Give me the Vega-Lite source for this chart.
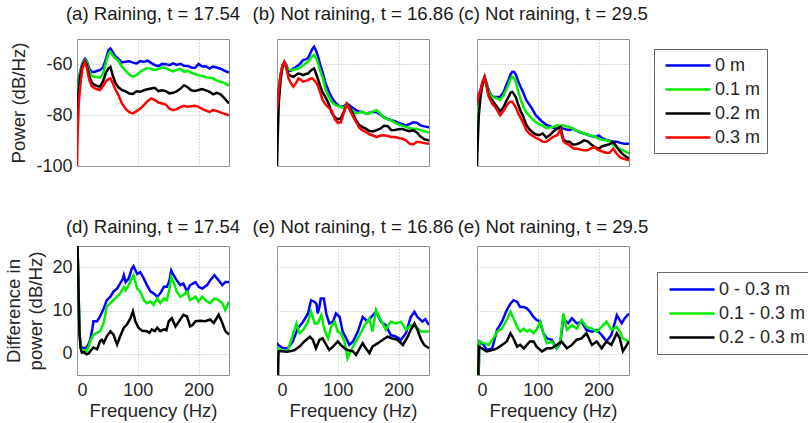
{
"$schema":"https://vega.github.io/schema/vega-lite/v6.json",
"background":"white",
"padding":{"left":4,"top":4,"right":0,"bottom":0},
"config":{
 "font":"Liberation Sans",
 "view":{"stroke":"#8c8c8c","strokeWidth":1},
 "axis":{"labelFontSize":18,"titleFontSize":18.6,"titleFontWeight":"normal","labelColor":"#262626","titleColor":"#262626","grid":true,"gridColor":"#b4b4b4","gridDash":[1,2],"gridOpacity":1,"domain":false,"ticks":false,"labelPadding":5},
 "axisY":{"titlePadding":7},
 "axisX":{"labelPadding":6,"titlePadding":2},
 "title":{"fontSize":18.6,"fontWeight":"normal","color":"#1a1a1a","font":"Liberation Sans","frame":"group","baseline":"alphabetic"},
 "legend":{"labelFontSize":18,"labelColor":"#262626","labelFont":"Liberation Sans"},
 "line":{"strokeWidth":2.5}
},
"data":{"values":[
{"p":"a","s":0,"f":0,"v":-72},{"p":"a","s":0,"f":2,"v":-67},{"p":"a","s":0,"f":5,"v":-63},{"p":"a","s":0,"f":9,"v":-59.5},{"p":"a","s":0,"f":13,"v":-57.8},{"p":"a","s":0,"f":16,"v":-58.6},{"p":"a","s":0,"f":20,"v":-61.5},{"p":"a","s":0,"f":24,"v":-63},{"p":"a","s":0,"f":28,"v":-63},{"p":"a","s":0,"f":33,"v":-62.6},{"p":"a","s":0,"f":38,"v":-62.2},{"p":"a","s":0,"f":43,"v":-61.2},{"p":"a","s":0,"f":48,"v":-57.5},{"p":"a","s":0,"f":52,"v":-54.2},{"p":"a","s":0,"f":55,"v":-53.7},{"p":"a","s":0,"f":59,"v":-55.2},{"p":"a","s":0,"f":63,"v":-56.8},{"p":"a","s":0,"f":68,"v":-57.8},{"p":"a","s":0,"f":74,"v":-59.2},{"p":"a","s":0,"f":80,"v":-59},{"p":"a","s":0,"f":86,"v":-58.8},{"p":"a","s":0,"f":92,"v":-59.3},{"p":"a","s":0,"f":98,"v":-59.6},{"p":"a","s":0,"f":104,"v":-58.7},{"p":"a","s":0,"f":110,"v":-59},{"p":"a","s":0,"f":116,"v":-58.5},{"p":"a","s":0,"f":122,"v":-59.4},{"p":"a","s":0,"f":128,"v":-60.3},{"p":"a","s":0,"f":134,"v":-60.7},{"p":"a","s":0,"f":140,"v":-59.8},{"p":"a","s":0,"f":146,"v":-59.9},{"p":"a","s":0,"f":152,"v":-60.3},{"p":"a","s":0,"f":158,"v":-59.6},{"p":"a","s":0,"f":164,"v":-60.2},{"p":"a","s":0,"f":170,"v":-59.8},{"p":"a","s":0,"f":176,"v":-60.5},{"p":"a","s":0,"f":182,"v":-60.6},{"p":"a","s":0,"f":188,"v":-61.2},{"p":"a","s":0,"f":194,"v":-61.4},{"p":"a","s":0,"f":200,"v":-59.8},{"p":"a","s":0,"f":206,"v":-60.8},{"p":"a","s":0,"f":212,"v":-60.7},{"p":"a","s":0,"f":218,"v":-61.6},{"p":"a","s":0,"f":224,"v":-60.9},{"p":"a","s":0,"f":230,"v":-61.2},{"p":"a","s":0,"f":236,"v":-61.7},{"p":"a","s":0,"f":242,"v":-62.4},{"p":"a","s":0,"f":250,"v":-63.2},
{"p":"a","s":1,"f":0,"v":-74},{"p":"a","s":1,"f":2,"v":-68},{"p":"a","s":1,"f":5,"v":-63.5},{"p":"a","s":1,"f":9,"v":-60},{"p":"a","s":1,"f":13,"v":-58.3},{"p":"a","s":1,"f":16,"v":-59},{"p":"a","s":1,"f":20,"v":-62.5},{"p":"a","s":1,"f":24,"v":-64.5},{"p":"a","s":1,"f":28,"v":-64.8},{"p":"a","s":1,"f":33,"v":-65},{"p":"a","s":1,"f":38,"v":-65.3},{"p":"a","s":1,"f":43,"v":-63.5},{"p":"a","s":1,"f":48,"v":-59},{"p":"a","s":1,"f":52,"v":-55.8},{"p":"a","s":1,"f":55,"v":-55},{"p":"a","s":1,"f":59,"v":-56.5},{"p":"a","s":1,"f":63,"v":-57.6},{"p":"a","s":1,"f":68,"v":-58.6},{"p":"a","s":1,"f":74,"v":-61},{"p":"a","s":1,"f":80,"v":-62.5},{"p":"a","s":1,"f":86,"v":-64},{"p":"a","s":1,"f":92,"v":-64.9},{"p":"a","s":1,"f":98,"v":-64.2},{"p":"a","s":1,"f":104,"v":-63},{"p":"a","s":1,"f":110,"v":-62},{"p":"a","s":1,"f":116,"v":-61.4},{"p":"a","s":1,"f":122,"v":-61.8},{"p":"a","s":1,"f":128,"v":-62.2},{"p":"a","s":1,"f":134,"v":-61.8},{"p":"a","s":1,"f":140,"v":-61.2},{"p":"a","s":1,"f":146,"v":-61.4},{"p":"a","s":1,"f":152,"v":-62.2},{"p":"a","s":1,"f":158,"v":-62.8},{"p":"a","s":1,"f":164,"v":-62.2},{"p":"a","s":1,"f":170,"v":-61.8},{"p":"a","s":1,"f":176,"v":-62.9},{"p":"a","s":1,"f":182,"v":-62.5},{"p":"a","s":1,"f":188,"v":-63.2},{"p":"a","s":1,"f":194,"v":-63.8},{"p":"a","s":1,"f":200,"v":-64.3},{"p":"a","s":1,"f":206,"v":-64.6},{"p":"a","s":1,"f":212,"v":-65},{"p":"a","s":1,"f":218,"v":-65.3},{"p":"a","s":1,"f":224,"v":-65.5},{"p":"a","s":1,"f":230,"v":-66.4},{"p":"a","s":1,"f":236,"v":-66.8},{"p":"a","s":1,"f":242,"v":-67.3},{"p":"a","s":1,"f":250,"v":-68.4},
{"p":"a","s":2,"f":0,"v":-82},{"p":"a","s":2,"f":2,"v":-72},{"p":"a","s":2,"f":5,"v":-65},{"p":"a","s":2,"f":9,"v":-60.5},{"p":"a","s":2,"f":13,"v":-58.8},{"p":"a","s":2,"f":16,"v":-60},{"p":"a","s":2,"f":20,"v":-64.5},{"p":"a","s":2,"f":24,"v":-67},{"p":"a","s":2,"f":28,"v":-68},{"p":"a","s":2,"f":33,"v":-68.5},{"p":"a","s":2,"f":38,"v":-68.8},{"p":"a","s":2,"f":43,"v":-66.5},{"p":"a","s":2,"f":48,"v":-63},{"p":"a","s":2,"f":52,"v":-61.5},{"p":"a","s":2,"f":55,"v":-61},{"p":"a","s":2,"f":59,"v":-64.5},{"p":"a","s":2,"f":63,"v":-67.2},{"p":"a","s":2,"f":68,"v":-69},{"p":"a","s":2,"f":74,"v":-70.1},{"p":"a","s":2,"f":80,"v":-70.6},{"p":"a","s":2,"f":86,"v":-71.5},{"p":"a","s":2,"f":92,"v":-71.6},{"p":"a","s":2,"f":98,"v":-70.6},{"p":"a","s":2,"f":104,"v":-70.8},{"p":"a","s":2,"f":110,"v":-70.2},{"p":"a","s":2,"f":116,"v":-69.8},{"p":"a","s":2,"f":122,"v":-69.5},{"p":"a","s":2,"f":128,"v":-69.2},{"p":"a","s":2,"f":134,"v":-70.5},{"p":"a","s":2,"f":140,"v":-70.2},{"p":"a","s":2,"f":146,"v":-70.5},{"p":"a","s":2,"f":152,"v":-71.4},{"p":"a","s":2,"f":158,"v":-71.2},{"p":"a","s":2,"f":164,"v":-70.6},{"p":"a","s":2,"f":170,"v":-69.6},{"p":"a","s":2,"f":176,"v":-68.2},{"p":"a","s":2,"f":182,"v":-69},{"p":"a","s":2,"f":188,"v":-70.2},{"p":"a","s":2,"f":194,"v":-70.5},{"p":"a","s":2,"f":200,"v":-70.1},{"p":"a","s":2,"f":206,"v":-69.7},{"p":"a","s":2,"f":212,"v":-70.2},{"p":"a","s":2,"f":218,"v":-70.8},{"p":"a","s":2,"f":224,"v":-71.8},{"p":"a","s":2,"f":230,"v":-71.2},{"p":"a","s":2,"f":236,"v":-71.8},{"p":"a","s":2,"f":242,"v":-73.2},{"p":"a","s":2,"f":250,"v":-75.4},
{"p":"a","s":3,"f":0,"v":-100},{"p":"a","s":3,"f":1,"v":-88},{"p":"a","s":3,"f":3,"v":-75},{"p":"a","s":3,"f":6,"v":-67},{"p":"a","s":3,"f":9,"v":-61.5},{"p":"a","s":3,"f":13,"v":-59.2},{"p":"a","s":3,"f":16,"v":-61},{"p":"a","s":3,"f":20,"v":-66},{"p":"a","s":3,"f":24,"v":-68.5},{"p":"a","s":3,"f":28,"v":-69.3},{"p":"a","s":3,"f":33,"v":-69.8},{"p":"a","s":3,"f":38,"v":-70.1},{"p":"a","s":3,"f":43,"v":-68.5},{"p":"a","s":3,"f":48,"v":-66.5},{"p":"a","s":3,"f":52,"v":-65.8},{"p":"a","s":3,"f":55,"v":-65.5},{"p":"a","s":3,"f":59,"v":-67.5},{"p":"a","s":3,"f":63,"v":-69.8},{"p":"a","s":3,"f":68,"v":-72},{"p":"a","s":3,"f":74,"v":-75.4},{"p":"a","s":3,"f":80,"v":-77.5},{"p":"a","s":3,"f":86,"v":-78.8},{"p":"a","s":3,"f":92,"v":-79.3},{"p":"a","s":3,"f":98,"v":-78.4},{"p":"a","s":3,"f":104,"v":-77.4},{"p":"a","s":3,"f":110,"v":-76},{"p":"a","s":3,"f":116,"v":-74.5},{"p":"a","s":3,"f":122,"v":-73.4},{"p":"a","s":3,"f":128,"v":-74.1},{"p":"a","s":3,"f":134,"v":-75},{"p":"a","s":3,"f":140,"v":-75.4},{"p":"a","s":3,"f":146,"v":-75.8},{"p":"a","s":3,"f":152,"v":-77.4},{"p":"a","s":3,"f":158,"v":-78},{"p":"a","s":3,"f":164,"v":-77.6},{"p":"a","s":3,"f":170,"v":-76.8},{"p":"a","s":3,"f":176,"v":-76.3},{"p":"a","s":3,"f":182,"v":-76.7},{"p":"a","s":3,"f":188,"v":-76.5},{"p":"a","s":3,"f":194,"v":-76.3},{"p":"a","s":3,"f":200,"v":-76.7},{"p":"a","s":3,"f":206,"v":-77.5},{"p":"a","s":3,"f":212,"v":-78.2},{"p":"a","s":3,"f":218,"v":-78.7},{"p":"a","s":3,"f":224,"v":-78},{"p":"a","s":3,"f":230,"v":-78.3},{"p":"a","s":3,"f":236,"v":-78.9},{"p":"a","s":3,"f":242,"v":-79.4},{"p":"a","s":3,"f":250,"v":-80},
{"p":"b","s":0,"f":0,"v":-76},{"p":"b","s":0,"f":3,"v":-70},{"p":"b","s":0,"f":6,"v":-64},{"p":"b","s":0,"f":9,"v":-60.5},{"p":"b","s":0,"f":12,"v":-59},{"p":"b","s":0,"f":15,"v":-60},{"p":"b","s":0,"f":19,"v":-62.5},{"p":"b","s":0,"f":23,"v":-62.5},{"p":"b","s":0,"f":27,"v":-61.6},{"p":"b","s":0,"f":31,"v":-61},{"p":"b","s":0,"f":35,"v":-60.3},{"p":"b","s":0,"f":39,"v":-59.5},{"p":"b","s":0,"f":43,"v":-58.3},{"p":"b","s":0,"f":47,"v":-58},{"p":"b","s":0,"f":51,"v":-57.6},{"p":"b","s":0,"f":55,"v":-55.5},{"p":"b","s":0,"f":58,"v":-54},{"p":"b","s":0,"f":61,"v":-53},{"p":"b","s":0,"f":64,"v":-54.5},{"p":"b","s":0,"f":67,"v":-56.5},{"p":"b","s":0,"f":71,"v":-60},{"p":"b","s":0,"f":75,"v":-63},{"p":"b","s":0,"f":80,"v":-67.5},{"p":"b","s":0,"f":85,"v":-70.5},{"p":"b","s":0,"f":90,"v":-73},{"p":"b","s":0,"f":95,"v":-74.8},{"p":"b","s":0,"f":100,"v":-76},{"p":"b","s":0,"f":105,"v":-76.7},{"p":"b","s":0,"f":110,"v":-76.5},{"p":"b","s":0,"f":115,"v":-75.4},{"p":"b","s":0,"f":120,"v":-76.2},{"p":"b","s":0,"f":125,"v":-77.2},{"p":"b","s":0,"f":130,"v":-78},{"p":"b","s":0,"f":135,"v":-78.5},{"p":"b","s":0,"f":140,"v":-78.7},{"p":"b","s":0,"f":146,"v":-79.3},{"p":"b","s":0,"f":152,"v":-79},{"p":"b","s":0,"f":158,"v":-78.7},{"p":"b","s":0,"f":164,"v":-78.8},{"p":"b","s":0,"f":170,"v":-79.8},{"p":"b","s":0,"f":176,"v":-80.8},{"p":"b","s":0,"f":182,"v":-81.5},{"p":"b","s":0,"f":188,"v":-82},{"p":"b","s":0,"f":194,"v":-82.4},{"p":"b","s":0,"f":200,"v":-83},{"p":"b","s":0,"f":206,"v":-83.5},{"p":"b","s":0,"f":212,"v":-84},{"p":"b","s":0,"f":218,"v":-83.5},{"p":"b","s":0,"f":224,"v":-82.8},{"p":"b","s":0,"f":230,"v":-83},{"p":"b","s":0,"f":236,"v":-84},{"p":"b","s":0,"f":242,"v":-84.4},{"p":"b","s":0,"f":250,"v":-84.8},
{"p":"b","s":1,"f":0,"v":-80},{"p":"b","s":1,"f":3,"v":-72},{"p":"b","s":1,"f":6,"v":-65},{"p":"b","s":1,"f":9,"v":-60.5},{"p":"b","s":1,"f":12,"v":-59},{"p":"b","s":1,"f":15,"v":-60.5},{"p":"b","s":1,"f":19,"v":-62.2},{"p":"b","s":1,"f":23,"v":-62.2},{"p":"b","s":1,"f":27,"v":-62.2},{"p":"b","s":1,"f":31,"v":-61.8},{"p":"b","s":1,"f":35,"v":-61.6},{"p":"b","s":1,"f":39,"v":-61},{"p":"b","s":1,"f":43,"v":-60.3},{"p":"b","s":1,"f":47,"v":-59.6},{"p":"b","s":1,"f":51,"v":-59},{"p":"b","s":1,"f":55,"v":-57.5},{"p":"b","s":1,"f":58,"v":-56.8},{"p":"b","s":1,"f":61,"v":-56.3},{"p":"b","s":1,"f":64,"v":-57.5},{"p":"b","s":1,"f":67,"v":-59},{"p":"b","s":1,"f":71,"v":-62.5},{"p":"b","s":1,"f":75,"v":-65},{"p":"b","s":1,"f":80,"v":-70},{"p":"b","s":1,"f":85,"v":-72.5},{"p":"b","s":1,"f":90,"v":-74.8},{"p":"b","s":1,"f":95,"v":-75.8},{"p":"b","s":1,"f":100,"v":-76.4},{"p":"b","s":1,"f":105,"v":-76.7},{"p":"b","s":1,"f":110,"v":-77.2},{"p":"b","s":1,"f":115,"v":-75.4},{"p":"b","s":1,"f":120,"v":-77},{"p":"b","s":1,"f":125,"v":-78.5},{"p":"b","s":1,"f":130,"v":-79.3},{"p":"b","s":1,"f":135,"v":-79},{"p":"b","s":1,"f":140,"v":-78.7},{"p":"b","s":1,"f":146,"v":-79.3},{"p":"b","s":1,"f":152,"v":-79.3},{"p":"b","s":1,"f":158,"v":-78.5},{"p":"b","s":1,"f":164,"v":-78},{"p":"b","s":1,"f":170,"v":-79.5},{"p":"b","s":1,"f":176,"v":-81},{"p":"b","s":1,"f":182,"v":-81.6},{"p":"b","s":1,"f":188,"v":-82},{"p":"b","s":1,"f":194,"v":-83},{"p":"b","s":1,"f":200,"v":-83.6},{"p":"b","s":1,"f":206,"v":-84.2},{"p":"b","s":1,"f":212,"v":-84.6},{"p":"b","s":1,"f":218,"v":-85.1},{"p":"b","s":1,"f":224,"v":-85.3},{"p":"b","s":1,"f":230,"v":-85.3},{"p":"b","s":1,"f":236,"v":-85.9},{"p":"b","s":1,"f":242,"v":-86.3},{"p":"b","s":1,"f":250,"v":-86.8},
{"p":"b","s":2,"f":0,"v":-100},{"p":"b","s":2,"f":1,"v":-90},{"p":"b","s":2,"f":3,"v":-75},{"p":"b","s":2,"f":6,"v":-66},{"p":"b","s":2,"f":9,"v":-61},{"p":"b","s":2,"f":12,"v":-59.5},{"p":"b","s":2,"f":15,"v":-61},{"p":"b","s":2,"f":19,"v":-64},{"p":"b","s":2,"f":23,"v":-64.5},{"p":"b","s":2,"f":27,"v":-64.9},{"p":"b","s":2,"f":31,"v":-64.2},{"p":"b","s":2,"f":35,"v":-63.6},{"p":"b","s":2,"f":39,"v":-63.8},{"p":"b","s":2,"f":43,"v":-64.2},{"p":"b","s":2,"f":47,"v":-63.8},{"p":"b","s":2,"f":51,"v":-63.6},{"p":"b","s":2,"f":55,"v":-62.6},{"p":"b","s":2,"f":58,"v":-62},{"p":"b","s":2,"f":61,"v":-61.6},{"p":"b","s":2,"f":64,"v":-63.5},{"p":"b","s":2,"f":67,"v":-65.5},{"p":"b","s":2,"f":71,"v":-68.5},{"p":"b","s":2,"f":75,"v":-71},{"p":"b","s":2,"f":80,"v":-73},{"p":"b","s":2,"f":85,"v":-75.5},{"p":"b","s":2,"f":90,"v":-79},{"p":"b","s":2,"f":95,"v":-80.8},{"p":"b","s":2,"f":100,"v":-81.6},{"p":"b","s":2,"f":105,"v":-81.3},{"p":"b","s":2,"f":110,"v":-78.5},{"p":"b","s":2,"f":115,"v":-75.6},{"p":"b","s":2,"f":120,"v":-77.2},{"p":"b","s":2,"f":125,"v":-79.5},{"p":"b","s":2,"f":130,"v":-82},{"p":"b","s":2,"f":135,"v":-83.8},{"p":"b","s":2,"f":140,"v":-84.6},{"p":"b","s":2,"f":146,"v":-85.3},{"p":"b","s":2,"f":152,"v":-86.2},{"p":"b","s":2,"f":158,"v":-86.4},{"p":"b","s":2,"f":164,"v":-85.9},{"p":"b","s":2,"f":170,"v":-85.3},{"p":"b","s":2,"f":176,"v":-84.2},{"p":"b","s":2,"f":182,"v":-84.3},{"p":"b","s":2,"f":188,"v":-85.9},{"p":"b","s":2,"f":194,"v":-85.8},{"p":"b","s":2,"f":200,"v":-85.5},{"p":"b","s":2,"f":206,"v":-85.4},{"p":"b","s":2,"f":212,"v":-85.9},{"p":"b","s":2,"f":218,"v":-86.3},{"p":"b","s":2,"f":224,"v":-85.9},{"p":"b","s":2,"f":230,"v":-86.8},{"p":"b","s":2,"f":236,"v":-88.4},{"p":"b","s":2,"f":242,"v":-89.4},{"p":"b","s":2,"f":250,"v":-90},
{"p":"b","s":3,"f":0,"v":-78},{"p":"b","s":3,"f":3,"v":-70},{"p":"b","s":3,"f":6,"v":-64},{"p":"b","s":3,"f":9,"v":-60.3},{"p":"b","s":3,"f":12,"v":-59},{"p":"b","s":3,"f":15,"v":-61},{"p":"b","s":3,"f":19,"v":-65.5},{"p":"b","s":3,"f":23,"v":-67.5},{"p":"b","s":3,"f":27,"v":-68.8},{"p":"b","s":3,"f":31,"v":-67.5},{"p":"b","s":3,"f":35,"v":-65.5},{"p":"b","s":3,"f":39,"v":-66},{"p":"b","s":3,"f":43,"v":-66.8},{"p":"b","s":3,"f":47,"v":-66.5},{"p":"b","s":3,"f":51,"v":-66.2},{"p":"b","s":3,"f":55,"v":-65.6},{"p":"b","s":3,"f":58,"v":-65.5},{"p":"b","s":3,"f":61,"v":-66.2},{"p":"b","s":3,"f":64,"v":-67},{"p":"b","s":3,"f":67,"v":-68.2},{"p":"b","s":3,"f":71,"v":-71},{"p":"b","s":3,"f":75,"v":-74},{"p":"b","s":3,"f":80,"v":-75.8},{"p":"b","s":3,"f":85,"v":-77},{"p":"b","s":3,"f":90,"v":-78.2},{"p":"b","s":3,"f":95,"v":-81.5},{"p":"b","s":3,"f":100,"v":-83},{"p":"b","s":3,"f":105,"v":-82.8},{"p":"b","s":3,"f":110,"v":-79},{"p":"b","s":3,"f":115,"v":-75.6},{"p":"b","s":3,"f":120,"v":-78},{"p":"b","s":3,"f":125,"v":-80.5},{"p":"b","s":3,"f":130,"v":-82.6},{"p":"b","s":3,"f":135,"v":-84.8},{"p":"b","s":3,"f":140,"v":-85.9},{"p":"b","s":3,"f":146,"v":-86.6},{"p":"b","s":3,"f":152,"v":-87.5},{"p":"b","s":3,"f":158,"v":-88},{"p":"b","s":3,"f":164,"v":-88.6},{"p":"b","s":3,"f":170,"v":-88},{"p":"b","s":3,"f":176,"v":-87.9},{"p":"b","s":3,"f":182,"v":-88.2},{"p":"b","s":3,"f":188,"v":-88.6},{"p":"b","s":3,"f":194,"v":-88.6},{"p":"b","s":3,"f":200,"v":-89},{"p":"b","s":3,"f":206,"v":-89.3},{"p":"b","s":3,"f":212,"v":-89.9},{"p":"b","s":3,"f":218,"v":-91.2},{"p":"b","s":3,"f":224,"v":-91.5},{"p":"b","s":3,"f":230,"v":-90.5},{"p":"b","s":3,"f":236,"v":-90.6},{"p":"b","s":3,"f":242,"v":-91},{"p":"b","s":3,"f":250,"v":-91.2},
{"p":"c","s":0,"f":0,"v":-76},{"p":"c","s":0,"f":3,"v":-72},{"p":"c","s":0,"f":6,"v":-70},{"p":"c","s":0,"f":9,"v":-67},{"p":"c","s":0,"f":12.5,"v":-64.9},{"p":"c","s":0,"f":16,"v":-67.5},{"p":"c","s":0,"f":19,"v":-70},{"p":"c","s":0,"f":22,"v":-71.5},{"p":"c","s":0,"f":25,"v":-72.6},{"p":"c","s":0,"f":29,"v":-72.8},{"p":"c","s":0,"f":33,"v":-72.8},{"p":"c","s":0,"f":38,"v":-72.8},{"p":"c","s":0,"f":44,"v":-70.8},{"p":"c","s":0,"f":48,"v":-68.2},{"p":"c","s":0,"f":52,"v":-66},{"p":"c","s":0,"f":55,"v":-64},{"p":"c","s":0,"f":58,"v":-62.9},{"p":"c","s":0,"f":61,"v":-63},{"p":"c","s":0,"f":64,"v":-64},{"p":"c","s":0,"f":68,"v":-66.8},{"p":"c","s":0,"f":72,"v":-69},{"p":"c","s":0,"f":76,"v":-71},{"p":"c","s":0,"f":81,"v":-74.1},{"p":"c","s":0,"f":86,"v":-75.8},{"p":"c","s":0,"f":91,"v":-77.6},{"p":"c","s":0,"f":96,"v":-79.8},{"p":"c","s":0,"f":102,"v":-81.3},{"p":"c","s":0,"f":108,"v":-82.7},{"p":"c","s":0,"f":114,"v":-83.8},{"p":"c","s":0,"f":120,"v":-84.3},{"p":"c","s":0,"f":126,"v":-85},{"p":"c","s":0,"f":132,"v":-85.3},{"p":"c","s":0,"f":137,"v":-85},{"p":"c","s":0,"f":142,"v":-85.3},{"p":"c","s":0,"f":147,"v":-85.6},{"p":"c","s":0,"f":152,"v":-85.8},{"p":"c","s":0,"f":158,"v":-85.3},{"p":"c","s":0,"f":164,"v":-86.2},{"p":"c","s":0,"f":170,"v":-86.8},{"p":"c","s":0,"f":176,"v":-87.2},{"p":"c","s":0,"f":182,"v":-87.7},{"p":"c","s":0,"f":188,"v":-88.2},{"p":"c","s":0,"f":194,"v":-88.6},{"p":"c","s":0,"f":200,"v":-88},{"p":"c","s":0,"f":206,"v":-89},{"p":"c","s":0,"f":212,"v":-89.6},{"p":"c","s":0,"f":218,"v":-90},{"p":"c","s":0,"f":224,"v":-90.5},{"p":"c","s":0,"f":230,"v":-90.5},{"p":"c","s":0,"f":236,"v":-90.9},{"p":"c","s":0,"f":242,"v":-91.2},{"p":"c","s":0,"f":250,"v":-91.2},
{"p":"c","s":1,"f":0,"v":-90},{"p":"c","s":1,"f":2,"v":-80},{"p":"c","s":1,"f":4,"v":-73},{"p":"c","s":1,"f":6,"v":-71},{"p":"c","s":1,"f":9,"v":-67.5},{"p":"c","s":1,"f":12.5,"v":-65},{"p":"c","s":1,"f":16,"v":-67.8},{"p":"c","s":1,"f":19,"v":-70.5},{"p":"c","s":1,"f":22,"v":-72},{"p":"c","s":1,"f":25,"v":-72.8},{"p":"c","s":1,"f":29,"v":-73.1},{"p":"c","s":1,"f":33,"v":-73.4},{"p":"c","s":1,"f":38,"v":-74},{"p":"c","s":1,"f":44,"v":-72.1},{"p":"c","s":1,"f":48,"v":-70},{"p":"c","s":1,"f":52,"v":-67.8},{"p":"c","s":1,"f":55,"v":-65.8},{"p":"c","s":1,"f":58,"v":-64.9},{"p":"c","s":1,"f":61,"v":-65.5},{"p":"c","s":1,"f":64,"v":-67},{"p":"c","s":1,"f":68,"v":-70.8},{"p":"c","s":1,"f":72,"v":-74},{"p":"c","s":1,"f":76,"v":-76.5},{"p":"c","s":1,"f":81,"v":-78.9},{"p":"c","s":1,"f":86,"v":-80.2},{"p":"c","s":1,"f":91,"v":-81.5},{"p":"c","s":1,"f":96,"v":-82.6},{"p":"c","s":1,"f":102,"v":-83.6},{"p":"c","s":1,"f":108,"v":-84.1},{"p":"c","s":1,"f":114,"v":-85.1},{"p":"c","s":1,"f":120,"v":-84.8},{"p":"c","s":1,"f":126,"v":-84.6},{"p":"c","s":1,"f":132,"v":-84},{"p":"c","s":1,"f":137,"v":-84.2},{"p":"c","s":1,"f":142,"v":-84},{"p":"c","s":1,"f":147,"v":-84.4},{"p":"c","s":1,"f":152,"v":-84.6},{"p":"c","s":1,"f":158,"v":-85.3},{"p":"c","s":1,"f":164,"v":-86.2},{"p":"c","s":1,"f":170,"v":-86.6},{"p":"c","s":1,"f":176,"v":-87.2},{"p":"c","s":1,"f":182,"v":-87.8},{"p":"c","s":1,"f":188,"v":-88},{"p":"c","s":1,"f":194,"v":-88.4},{"p":"c","s":1,"f":200,"v":-89.2},{"p":"c","s":1,"f":206,"v":-89.7},{"p":"c","s":1,"f":212,"v":-89.9},{"p":"c","s":1,"f":218,"v":-90.2},{"p":"c","s":1,"f":224,"v":-91.8},{"p":"c","s":1,"f":230,"v":-92.8},{"p":"c","s":1,"f":236,"v":-93.4},{"p":"c","s":1,"f":242,"v":-94},{"p":"c","s":1,"f":250,"v":-95.1},
{"p":"c","s":2,"f":0,"v":-100},{"p":"c","s":2,"f":1,"v":-92},{"p":"c","s":2,"f":3,"v":-80},{"p":"c","s":2,"f":6,"v":-72.5},{"p":"c","s":2,"f":9,"v":-68},{"p":"c","s":2,"f":12.5,"v":-65.2},{"p":"c","s":2,"f":16,"v":-68.5},{"p":"c","s":2,"f":19,"v":-72},{"p":"c","s":2,"f":22,"v":-73.5},{"p":"c","s":2,"f":25,"v":-74.1},{"p":"c","s":2,"f":29,"v":-75.5},{"p":"c","s":2,"f":33,"v":-76.7},{"p":"c","s":2,"f":38,"v":-78.6},{"p":"c","s":2,"f":44,"v":-76.7},{"p":"c","s":2,"f":48,"v":-74.5},{"p":"c","s":2,"f":52,"v":-72.8},{"p":"c","s":2,"f":55,"v":-71.2},{"p":"c","s":2,"f":58,"v":-70.8},{"p":"c","s":2,"f":61,"v":-71.8},{"p":"c","s":2,"f":64,"v":-73},{"p":"c","s":2,"f":68,"v":-76},{"p":"c","s":2,"f":72,"v":-78.5},{"p":"c","s":2,"f":76,"v":-80.5},{"p":"c","s":2,"f":81,"v":-83.7},{"p":"c","s":2,"f":86,"v":-85.5},{"p":"c","s":2,"f":91,"v":-86.6},{"p":"c","s":2,"f":96,"v":-87.5},{"p":"c","s":2,"f":102,"v":-87.9},{"p":"c","s":2,"f":108,"v":-87.2},{"p":"c","s":2,"f":114,"v":-88.8},{"p":"c","s":2,"f":120,"v":-87.8},{"p":"c","s":2,"f":126,"v":-86.3},{"p":"c","s":2,"f":132,"v":-85.3},{"p":"c","s":2,"f":137,"v":-84.6},{"p":"c","s":2,"f":142,"v":-89.5},{"p":"c","s":2,"f":147,"v":-90.5},{"p":"c","s":2,"f":152,"v":-90.5},{"p":"c","s":2,"f":158,"v":-91.5},{"p":"c","s":2,"f":164,"v":-91.4},{"p":"c","s":2,"f":170,"v":-90.8},{"p":"c","s":2,"f":176,"v":-89.9},{"p":"c","s":2,"f":182,"v":-90.3},{"p":"c","s":2,"f":188,"v":-91.5},{"p":"c","s":2,"f":194,"v":-92.6},{"p":"c","s":2,"f":200,"v":-93.2},{"p":"c","s":2,"f":206,"v":-92.2},{"p":"c","s":2,"f":212,"v":-91.8},{"p":"c","s":2,"f":218,"v":-91.4},{"p":"c","s":2,"f":224,"v":-90.5},{"p":"c","s":2,"f":230,"v":-92.5},{"p":"c","s":2,"f":236,"v":-94.5},{"p":"c","s":2,"f":242,"v":-95.8},{"p":"c","s":2,"f":250,"v":-97.1},
{"p":"c","s":3,"f":0,"v":-75.4},{"p":"c","s":3,"f":3,"v":-72},{"p":"c","s":3,"f":6,"v":-70},{"p":"c","s":3,"f":9,"v":-67},{"p":"c","s":3,"f":12.5,"v":-65},{"p":"c","s":3,"f":16,"v":-69},{"p":"c","s":3,"f":19,"v":-72.5},{"p":"c","s":3,"f":22,"v":-74},{"p":"c","s":3,"f":25,"v":-75.4},{"p":"c","s":3,"f":29,"v":-76.5},{"p":"c","s":3,"f":33,"v":-78},{"p":"c","s":3,"f":38,"v":-80},{"p":"c","s":3,"f":44,"v":-78.2},{"p":"c","s":3,"f":48,"v":-76.5},{"p":"c","s":3,"f":52,"v":-75.2},{"p":"c","s":3,"f":55,"v":-74.7},{"p":"c","s":3,"f":58,"v":-74.7},{"p":"c","s":3,"f":61,"v":-75.8},{"p":"c","s":3,"f":64,"v":-77},{"p":"c","s":3,"f":68,"v":-79.3},{"p":"c","s":3,"f":72,"v":-81.2},{"p":"c","s":3,"f":76,"v":-83},{"p":"c","s":3,"f":81,"v":-85.9},{"p":"c","s":3,"f":86,"v":-87.2},{"p":"c","s":3,"f":91,"v":-88},{"p":"c","s":3,"f":96,"v":-88.8},{"p":"c","s":3,"f":102,"v":-89.5},{"p":"c","s":3,"f":108,"v":-90.5},{"p":"c","s":3,"f":114,"v":-90.5},{"p":"c","s":3,"f":120,"v":-89.5},{"p":"c","s":3,"f":126,"v":-88.4},{"p":"c","s":3,"f":132,"v":-87.9},{"p":"c","s":3,"f":137,"v":-85.9},{"p":"c","s":3,"f":142,"v":-90.2},{"p":"c","s":3,"f":147,"v":-91.2},{"p":"c","s":3,"f":152,"v":-91.8},{"p":"c","s":3,"f":158,"v":-93},{"p":"c","s":3,"f":164,"v":-93.2},{"p":"c","s":3,"f":170,"v":-93.5},{"p":"c","s":3,"f":176,"v":-93.8},{"p":"c","s":3,"f":182,"v":-93.8},{"p":"c","s":3,"f":188,"v":-93},{"p":"c","s":3,"f":194,"v":-92.6},{"p":"c","s":3,"f":200,"v":-93.8},{"p":"c","s":3,"f":206,"v":-94.3},{"p":"c","s":3,"f":212,"v":-94.8},{"p":"c","s":3,"f":218,"v":-94.8},{"p":"c","s":3,"f":224,"v":-93.2},{"p":"c","s":3,"f":230,"v":-95.2},{"p":"c","s":3,"f":236,"v":-96.7},{"p":"c","s":3,"f":242,"v":-97.2},{"p":"c","s":3,"f":250,"v":-97.8},
{"p":"d","s":0,"f":0,"v":30},{"p":"d","s":0,"f":2,"v":18},{"p":"d","s":0,"f":4,"v":5},{"p":"d","s":0,"f":6,"v":1.6},{"p":"d","s":0,"f":8,"v":1.4},{"p":"d","s":0,"f":12,"v":1.2},{"p":"d","s":0,"f":16,"v":1.5},{"p":"d","s":0,"f":19,"v":2.2},{"p":"d","s":0,"f":22,"v":3.3},{"p":"d","s":0,"f":25,"v":5.5},{"p":"d","s":0,"f":27,"v":7.5},{"p":"d","s":0,"f":33,"v":7.5},{"p":"d","s":0,"f":38,"v":8.6},{"p":"d","s":0,"f":44,"v":10.5},{"p":"d","s":0,"f":49,"v":12.4},{"p":"d","s":0,"f":55,"v":13.2},{"p":"d","s":0,"f":60,"v":14.4},{"p":"d","s":0,"f":66,"v":15.1},{"p":"d","s":0,"f":71,"v":16.3},{"p":"d","s":0,"f":75,"v":17.2},{"p":"d","s":0,"f":77,"v":18.2},{"p":"d","s":0,"f":80,"v":16.6},{"p":"d","s":0,"f":85,"v":17.4},{"p":"d","s":0,"f":90,"v":19.7},{"p":"d","s":0,"f":93,"v":20.3},{"p":"d","s":0,"f":99,"v":18.5},{"p":"d","s":0,"f":104,"v":18.9},{"p":"d","s":0,"f":110,"v":17.4},{"p":"d","s":0,"f":115,"v":15.9},{"p":"d","s":0,"f":121,"v":14.4},{"p":"d","s":0,"f":126,"v":14},{"p":"d","s":0,"f":132,"v":13.2},{"p":"d","s":0,"f":137,"v":14},{"p":"d","s":0,"f":143,"v":15.5},{"p":"d","s":0,"f":148,"v":15.5},{"p":"d","s":0,"f":152,"v":17},{"p":"d","s":0,"f":155,"v":19.3},{"p":"d","s":0,"f":159,"v":18.2},{"p":"d","s":0,"f":164,"v":17},{"p":"d","s":0,"f":170,"v":15.9},{"p":"d","s":0,"f":175,"v":16.3},{"p":"d","s":0,"f":181,"v":14.4},{"p":"d","s":0,"f":186,"v":15.9},{"p":"d","s":0,"f":195,"v":16.6},{"p":"d","s":0,"f":200,"v":15.5},{"p":"d","s":0,"f":206,"v":15.1},{"p":"d","s":0,"f":214,"v":15.9},{"p":"d","s":0,"f":219,"v":17},{"p":"d","s":0,"f":226,"v":18.2},{"p":"d","s":0,"f":233,"v":17},{"p":"d","s":0,"f":239,"v":15.9},{"p":"d","s":0,"f":244,"v":16.6},{"p":"d","s":0,"f":250,"v":16.6},
{"p":"d","s":1,"f":0,"v":30},{"p":"d","s":1,"f":2,"v":18},{"p":"d","s":1,"f":4,"v":5},{"p":"d","s":1,"f":6,"v":1.2},{"p":"d","s":1,"f":8,"v":1},{"p":"d","s":1,"f":12,"v":0.8},{"p":"d","s":1,"f":16,"v":0.6},{"p":"d","s":1,"f":19,"v":1.5},{"p":"d","s":1,"f":22,"v":2.9},{"p":"d","s":1,"f":27,"v":4.4},{"p":"d","s":1,"f":33,"v":4.8},{"p":"d","s":1,"f":38,"v":5.2},{"p":"d","s":1,"f":44,"v":7.1},{"p":"d","s":1,"f":49,"v":10.9},{"p":"d","s":1,"f":55,"v":11.7},{"p":"d","s":1,"f":60,"v":12.4},{"p":"d","s":1,"f":66,"v":13.2},{"p":"d","s":1,"f":71,"v":14},{"p":"d","s":1,"f":77,"v":15.5},{"p":"d","s":1,"f":80,"v":14.7},{"p":"d","s":1,"f":85,"v":15.9},{"p":"d","s":1,"f":90,"v":17.4},{"p":"d","s":1,"f":93,"v":18.2},{"p":"d","s":1,"f":99,"v":15.1},{"p":"d","s":1,"f":104,"v":14.4},{"p":"d","s":1,"f":110,"v":12.4},{"p":"d","s":1,"f":115,"v":11.7},{"p":"d","s":1,"f":121,"v":12.1},{"p":"d","s":1,"f":126,"v":11.3},{"p":"d","s":1,"f":132,"v":12.8},{"p":"d","s":1,"f":137,"v":11.7},{"p":"d","s":1,"f":143,"v":12.8},{"p":"d","s":1,"f":148,"v":12.4},{"p":"d","s":1,"f":152,"v":15},{"p":"d","s":1,"f":155,"v":17.8},{"p":"d","s":1,"f":159,"v":16.6},{"p":"d","s":1,"f":164,"v":14.4},{"p":"d","s":1,"f":170,"v":13.2},{"p":"d","s":1,"f":175,"v":13.6},{"p":"d","s":1,"f":181,"v":14.4},{"p":"d","s":1,"f":186,"v":12.4},{"p":"d","s":1,"f":195,"v":13.2},{"p":"d","s":1,"f":200,"v":12.1},{"p":"d","s":1,"f":206,"v":13.2},{"p":"d","s":1,"f":214,"v":12.1},{"p":"d","s":1,"f":219,"v":11.7},{"p":"d","s":1,"f":226,"v":12.8},{"p":"d","s":1,"f":233,"v":12.4},{"p":"d","s":1,"f":239,"v":11.7},{"p":"d","s":1,"f":244,"v":10.1},{"p":"d","s":1,"f":250,"v":12.1},
{"p":"d","s":2,"f":0,"v":30},{"p":"d","s":2,"f":2,"v":18},{"p":"d","s":2,"f":4,"v":5},{"p":"d","s":2,"f":6,"v":1.2},{"p":"d","s":2,"f":8,"v":0.2},{"p":"d","s":2,"f":12,"v":0.3},{"p":"d","s":2,"f":16,"v":-0.2},{"p":"d","s":2,"f":19,"v":0},{"p":"d","s":2,"f":22,"v":0.6},{"p":"d","s":2,"f":27,"v":1.4},{"p":"d","s":2,"f":30,"v":1.2},{"p":"d","s":2,"f":33,"v":1},{"p":"d","s":2,"f":38,"v":2.9},{"p":"d","s":2,"f":41,"v":3.2},{"p":"d","s":2,"f":44,"v":2.5},{"p":"d","s":2,"f":49,"v":4},{"p":"d","s":2,"f":55,"v":5.2},{"p":"d","s":2,"f":60,"v":4.4},{"p":"d","s":2,"f":63,"v":3.2},{"p":"d","s":2,"f":66,"v":2.1},{"p":"d","s":2,"f":71,"v":4},{"p":"d","s":2,"f":77,"v":6},{"p":"d","s":2,"f":82,"v":6.7},{"p":"d","s":2,"f":88,"v":8.2},{"p":"d","s":2,"f":92,"v":9.8},{"p":"d","s":2,"f":96,"v":7.5},{"p":"d","s":2,"f":101,"v":6},{"p":"d","s":2,"f":107,"v":5.3},{"p":"d","s":2,"f":115,"v":5.2},{"p":"d","s":2,"f":119,"v":4.8},{"p":"d","s":2,"f":123,"v":5.6},{"p":"d","s":2,"f":128,"v":5.2},{"p":"d","s":2,"f":132,"v":6},{"p":"d","s":2,"f":137,"v":5.2},{"p":"d","s":2,"f":143,"v":5.6},{"p":"d","s":2,"f":147,"v":5.4},{"p":"d","s":2,"f":151,"v":7.5},{"p":"d","s":2,"f":156,"v":8.2},{"p":"d","s":2,"f":162,"v":6.3},{"p":"d","s":2,"f":168,"v":7.5},{"p":"d","s":2,"f":175,"v":9},{"p":"d","s":2,"f":181,"v":8.6},{"p":"d","s":2,"f":186,"v":6.3},{"p":"d","s":2,"f":190,"v":6.6},{"p":"d","s":2,"f":195,"v":7.5},{"p":"d","s":2,"f":203,"v":7.6},{"p":"d","s":2,"f":211,"v":7.5},{"p":"d","s":2,"f":219,"v":7.9},{"p":"d","s":2,"f":225,"v":7.1},{"p":"d","s":2,"f":233,"v":9},{"p":"d","s":2,"f":239,"v":7.1},{"p":"d","s":2,"f":244,"v":5.2},{"p":"d","s":2,"f":250,"v":4.4},
{"p":"e","s":0,"f":0,"v":2.5},{"p":"e","s":0,"f":2,"v":2},{"p":"e","s":0,"f":10,"v":1.2},{"p":"e","s":0,"f":18,"v":1.2},{"p":"e","s":0,"f":26,"v":2.8},{"p":"e","s":0,"f":34,"v":5.8},{"p":"e","s":0,"f":43,"v":7.4},{"p":"e","s":0,"f":51,"v":9.3},{"p":"e","s":0,"f":56,"v":12.4},{"p":"e","s":0,"f":62,"v":12},{"p":"e","s":0,"f":65,"v":11.5},{"p":"e","s":0,"f":67,"v":9.3},{"p":"e","s":0,"f":70,"v":11},{"p":"e","s":0,"f":72,"v":12.8},{"p":"e","s":0,"f":77,"v":12.8},{"p":"e","s":0,"f":81,"v":9.3},{"p":"e","s":0,"f":86,"v":7},{"p":"e","s":0,"f":92,"v":7.4},{"p":"e","s":0,"f":97,"v":9.3},{"p":"e","s":0,"f":103,"v":8.5},{"p":"e","s":0,"f":108,"v":5.1},{"p":"e","s":0,"f":114,"v":3.5},{"p":"e","s":0,"f":119,"v":2},{"p":"e","s":0,"f":125,"v":2.8},{"p":"e","s":0,"f":133,"v":5.1},{"p":"e","s":0,"f":141,"v":8.5},{"p":"e","s":0,"f":149,"v":7.4},{"p":"e","s":0,"f":155,"v":8.5},{"p":"e","s":0,"f":163,"v":9.7},{"p":"e","s":0,"f":171,"v":7.4},{"p":"e","s":0,"f":179,"v":6.6},{"p":"e","s":0,"f":187,"v":4.3},{"p":"e","s":0,"f":196,"v":3.9},{"p":"e","s":0,"f":204,"v":3.2},{"p":"e","s":0,"f":212,"v":4.7},{"p":"e","s":0,"f":220,"v":8.5},{"p":"e","s":0,"f":226,"v":9.7},{"p":"e","s":0,"f":231,"v":8.5},{"p":"e","s":0,"f":239,"v":7.4},{"p":"e","s":0,"f":244,"v":8},{"p":"e","s":0,"f":250,"v":6.6},
{"p":"e","s":1,"f":0,"v":1.5},{"p":"e","s":1,"f":2,"v":1.2},{"p":"e","s":1,"f":10,"v":0.5},{"p":"e","s":1,"f":18,"v":0.8},{"p":"e","s":1,"f":26,"v":4.3},{"p":"e","s":1,"f":32,"v":7},{"p":"e","s":1,"f":37,"v":4.7},{"p":"e","s":1,"f":43,"v":5.5},{"p":"e","s":1,"f":51,"v":7.4},{"p":"e","s":1,"f":56,"v":9.7},{"p":"e","s":1,"f":62,"v":7},{"p":"e","s":1,"f":67,"v":7},{"p":"e","s":1,"f":73,"v":8.9},{"p":"e","s":1,"f":78,"v":5.5},{"p":"e","s":1,"f":84,"v":3.5},{"p":"e","s":1,"f":89,"v":6.2},{"p":"e","s":1,"f":95,"v":7.4},{"p":"e","s":1,"f":100,"v":5.1},{"p":"e","s":1,"f":105,"v":4.7},{"p":"e","s":1,"f":111,"v":2.8},{"p":"e","s":1,"f":116,"v":-1.1},{"p":"e","s":1,"f":122,"v":0.8},{"p":"e","s":1,"f":130,"v":2.8},{"p":"e","s":1,"f":136,"v":4.3},{"p":"e","s":1,"f":144,"v":6.6},{"p":"e","s":1,"f":152,"v":8.2},{"p":"e","s":1,"f":157,"v":5.1},{"p":"e","s":1,"f":163,"v":10.1},{"p":"e","s":1,"f":168,"v":8.5},{"p":"e","s":1,"f":174,"v":7},{"p":"e","s":1,"f":179,"v":5.5},{"p":"e","s":1,"f":187,"v":7.4},{"p":"e","s":1,"f":196,"v":7},{"p":"e","s":1,"f":204,"v":7.4},{"p":"e","s":1,"f":212,"v":5.5},{"p":"e","s":1,"f":220,"v":6.6},{"p":"e","s":1,"f":228,"v":6.2},{"p":"e","s":1,"f":237,"v":5.1},{"p":"e","s":1,"f":250,"v":5.1},
{"p":"e","s":2,"f":0,"v":-6},{"p":"e","s":2,"f":1.5,"v":-6},{"p":"e","s":2,"f":2.5,"v":0.5},{"p":"e","s":2,"f":10,"v":0.5},{"p":"e","s":2,"f":16,"v":0.4},{"p":"e","s":2,"f":21,"v":0.5},{"p":"e","s":2,"f":29,"v":0.8},{"p":"e","s":2,"f":37,"v":1.6},{"p":"e","s":2,"f":45,"v":2.8},{"p":"e","s":2,"f":54,"v":3.9},{"p":"e","s":2,"f":59,"v":3.2},{"p":"e","s":2,"f":64,"v":1.2},{"p":"e","s":2,"f":70,"v":3.2},{"p":"e","s":2,"f":75,"v":3.5},{"p":"e","s":2,"f":81,"v":2},{"p":"e","s":2,"f":86,"v":0.8},{"p":"e","s":2,"f":92,"v":1.6},{"p":"e","s":2,"f":100,"v":2.8},{"p":"e","s":2,"f":105,"v":2},{"p":"e","s":2,"f":111,"v":1.2},{"p":"e","s":2,"f":116,"v":0.8},{"p":"e","s":2,"f":125,"v":0.5},{"p":"e","s":2,"f":130,"v":-0.3},{"p":"e","s":2,"f":136,"v":1.2},{"p":"e","s":2,"f":141,"v":2.4},{"p":"e","s":2,"f":146,"v":1.2},{"p":"e","s":2,"f":152,"v":0.1},{"p":"e","s":2,"f":157,"v":1.6},{"p":"e","s":2,"f":166,"v":2.4},{"p":"e","s":2,"f":174,"v":3.2},{"p":"e","s":2,"f":182,"v":3.9},{"p":"e","s":2,"f":190,"v":3.5},{"p":"e","s":2,"f":198,"v":3.2},{"p":"e","s":2,"f":207,"v":2},{"p":"e","s":2,"f":215,"v":3.9},{"p":"e","s":2,"f":220,"v":5.5},{"p":"e","s":2,"f":226,"v":7},{"p":"e","s":2,"f":231,"v":5.5},{"p":"e","s":2,"f":237,"v":3.2},{"p":"e","s":2,"f":242,"v":2},{"p":"e","s":2,"f":250,"v":1.2},
{"p":"f","s":0,"f":0,"v":-6},{"p":"f","s":0,"f":2.5,"v":-6},{"p":"f","s":0,"f":4,"v":2.8},{"p":"f","s":0,"f":11,"v":2},{"p":"f","s":0,"f":16,"v":0.8},{"p":"f","s":0,"f":25,"v":1.2},{"p":"f","s":0,"f":33,"v":5.5},{"p":"f","s":0,"f":41,"v":7.4},{"p":"f","s":0,"f":49,"v":10.1},{"p":"f","s":0,"f":55,"v":11.6},{"p":"f","s":0,"f":60,"v":12.4},{"p":"f","s":0,"f":66,"v":12},{"p":"f","s":0,"f":71,"v":10.8},{"p":"f","s":0,"f":77,"v":10.8},{"p":"f","s":0,"f":82,"v":10.5},{"p":"f","s":0,"f":87,"v":9.7},{"p":"f","s":0,"f":93,"v":8.5},{"p":"f","s":0,"f":98,"v":7.8},{"p":"f","s":0,"f":104,"v":7.4},{"p":"f","s":0,"f":109,"v":4.7},{"p":"f","s":0,"f":115,"v":3.5},{"p":"f","s":0,"f":123,"v":3.2},{"p":"f","s":0,"f":131,"v":1.2},{"p":"f","s":0,"f":137,"v":2.4},{"p":"f","s":0,"f":142,"v":8.2},{"p":"f","s":0,"f":150,"v":7},{"p":"f","s":0,"f":156,"v":8.2},{"p":"f","s":0,"f":164,"v":7},{"p":"f","s":0,"f":172,"v":7.4},{"p":"f","s":0,"f":180,"v":5.5},{"p":"f","s":0,"f":189,"v":5.1},{"p":"f","s":0,"f":197,"v":5.5},{"p":"f","s":0,"f":205,"v":4.3},{"p":"f","s":0,"f":213,"v":2.8},{"p":"f","s":0,"f":221,"v":4.3},{"p":"f","s":0,"f":230,"v":8.9},{"p":"f","s":0,"f":238,"v":7},{"p":"f","s":0,"f":243,"v":8.2},{"p":"f","s":0,"f":250,"v":9.3},
{"p":"f","s":1,"f":0,"v":-6},{"p":"f","s":1,"f":2.5,"v":-6},{"p":"f","s":1,"f":4,"v":2.8},{"p":"f","s":1,"f":11,"v":2.4},{"p":"f","s":1,"f":19,"v":2},{"p":"f","s":1,"f":27,"v":3.5},{"p":"f","s":1,"f":33,"v":5.1},{"p":"f","s":1,"f":41,"v":5.8},{"p":"f","s":1,"f":49,"v":7.8},{"p":"f","s":1,"f":55,"v":9.7},{"p":"f","s":1,"f":60,"v":8.2},{"p":"f","s":1,"f":66,"v":6.2},{"p":"f","s":1,"f":71,"v":5.1},{"p":"f","s":1,"f":77,"v":5.8},{"p":"f","s":1,"f":82,"v":5.1},{"p":"f","s":1,"f":87,"v":5.5},{"p":"f","s":1,"f":93,"v":4.7},{"p":"f","s":1,"f":98,"v":5.5},{"p":"f","s":1,"f":104,"v":7.4},{"p":"f","s":1,"f":109,"v":4.7},{"p":"f","s":1,"f":115,"v":2.4},{"p":"f","s":1,"f":123,"v":2.8},{"p":"f","s":1,"f":131,"v":1.2},{"p":"f","s":1,"f":137,"v":2.8},{"p":"f","s":1,"f":142,"v":9.3},{"p":"f","s":1,"f":148,"v":5.5},{"p":"f","s":1,"f":156,"v":6.6},{"p":"f","s":1,"f":164,"v":5.8},{"p":"f","s":1,"f":172,"v":7.8},{"p":"f","s":1,"f":180,"v":6.2},{"p":"f","s":1,"f":189,"v":5.8},{"p":"f","s":1,"f":197,"v":5.1},{"p":"f","s":1,"f":205,"v":6.2},{"p":"f","s":1,"f":213,"v":7.4},{"p":"f","s":1,"f":221,"v":5.5},{"p":"f","s":1,"f":230,"v":6.2},{"p":"f","s":1,"f":235,"v":5.1},{"p":"f","s":1,"f":240,"v":3.5},{"p":"f","s":1,"f":250,"v":2.8},
{"p":"f","s":2,"f":0,"v":-6},{"p":"f","s":2,"f":2,"v":-6},{"p":"f","s":2,"f":3,"v":1.6},{"p":"f","s":2,"f":8,"v":1.2},{"p":"f","s":2,"f":16,"v":0.5},{"p":"f","s":2,"f":25,"v":0.8},{"p":"f","s":2,"f":33,"v":1.2},{"p":"f","s":2,"f":41,"v":2},{"p":"f","s":2,"f":49,"v":2.8},{"p":"f","s":2,"f":55,"v":4.7},{"p":"f","s":2,"f":60,"v":3.5},{"p":"f","s":2,"f":66,"v":1.6},{"p":"f","s":2,"f":71,"v":2},{"p":"f","s":2,"f":77,"v":1.2},{"p":"f","s":2,"f":82,"v":2},{"p":"f","s":2,"f":87,"v":2.8},{"p":"f","s":2,"f":93,"v":2.8},{"p":"f","s":2,"f":98,"v":1.6},{"p":"f","s":2,"f":107,"v":0.5},{"p":"f","s":2,"f":115,"v":1.2},{"p":"f","s":2,"f":123,"v":1.2},{"p":"f","s":2,"f":131,"v":2},{"p":"f","s":2,"f":139,"v":2.8},{"p":"f","s":2,"f":148,"v":1.2},{"p":"f","s":2,"f":156,"v":2},{"p":"f","s":2,"f":164,"v":3.2},{"p":"f","s":2,"f":172,"v":3.5},{"p":"f","s":2,"f":180,"v":4.7},{"p":"f","s":2,"f":189,"v":2},{"p":"f","s":2,"f":197,"v":2.8},{"p":"f","s":2,"f":205,"v":1.2},{"p":"f","s":2,"f":213,"v":2.8},{"p":"f","s":2,"f":221,"v":2},{"p":"f","s":2,"f":230,"v":4.7},{"p":"f","s":2,"f":235,"v":3.5},{"p":"f","s":2,"f":240,"v":0.5},{"p":"f","s":2,"f":250,"v":2.8}
]},
"resolve":{"scale":{"color":"independent"},"legend":{"color":"independent"}},
"spacing":41,
"vconcat":[
{"hconcat":[
 {"width":152,"height":127,"title":{"text":"(a) Raining, t = 17.54","offset":15},
  "transform":[{"filter":"datum.p==='a'"}],"mark":{"type":"line","clip":true},
  "encoding":{
   "x":{"field":"f","type":"quantitative","scale":{"domain":[0,250],"nice":false},"axis":{"values":[0,100,200],"labels":false,"title":null}},
   "y":{"field":"v","type":"quantitative","scale":{"domain":[-100,-50],"nice":false},"axis":{"values":[-100,-80,-60],"labelExpr":"datum.value + ''","title":"Power (dB/Hz)"}},
   "color":{"field":"s","type":"nominal","scale":{"domain":[0,1,2,3],"range":["#0000ff","#00ee00","#000000","#ff0000"]},
     "legend":{"title":null,"orient":"none","legendX":577,"legendY":10,"symbolType":"M-0.556,0H4.444","symbolSize":324,"symbolStrokeWidth":3,"labelOffset":34,"strokeColor":"#666666","fillColor":"white","padding":6,"rowPadding":4,"labelExpr":"['0 m','0.1 m','0.2 m','0.3 m'][datum.value]"}}}},
 {"width":152,"height":127,"title":{"text":"(b) Not raining, t = 16.86","offset":15},
  "transform":[{"filter":"datum.p==='b'"}],"mark":{"type":"line","clip":true},
  "encoding":{
   "x":{"field":"f","type":"quantitative","scale":{"domain":[0,250],"nice":false},"axis":{"values":[0,100,200],"labels":false,"title":null}},
   "y":{"field":"v","type":"quantitative","scale":{"domain":[-100,-50],"nice":false},"axis":{"values":[-100,-80,-60],"labels":false,"title":null}},
   "color":{"field":"s","type":"nominal","scale":{"domain":[0,1,2,3],"range":["#0000ff","#00ee00","#000000","#ff0000"]},
     "legend":{"title":null,"orient":"none","legendX":577,"legendY":10,"symbolType":"M-0.556,0H4.444","symbolSize":324,"symbolStrokeWidth":3,"labelOffset":34,"strokeColor":"#666666","fillColor":"white","padding":6,"rowPadding":4,"labelExpr":"['0 m','0.1 m','0.2 m','0.3 m'][datum.value]"}}}},
 {"width":152,"height":127,"title":{"text":"(c) Not raining, t = 29.5","offset":15},
  "transform":[{"filter":"datum.p==='c'"}],"mark":{"type":"line","clip":true},
  "encoding":{
   "x":{"field":"f","type":"quantitative","scale":{"domain":[0,250],"nice":false},"axis":{"values":[0,100,200],"labels":false,"title":null}},
   "y":{"field":"v","type":"quantitative","scale":{"domain":[-100,-50],"nice":false},"axis":{"values":[-100,-80,-60],"labels":false,"title":null}},
   "color":{"field":"s","type":"nominal","scale":{"domain":[0,1,2,3],"range":["#0000ff","#00ee00","#000000","#ff0000"]},
     "legend":{"title":null,"orient":"none","legendX":577,"legendY":10,"symbolType":"M-0.556,0H4.444","symbolSize":324,"symbolStrokeWidth":3,"labelOffset":34,"strokeColor":"#666666","fillColor":"white","padding":6,"rowPadding":4,"labelExpr":"['0 m','0.1 m','0.2 m','0.3 m'][datum.value]"}}}}
 ],"spacing":48,"bounds":"flush"},
{"hconcat":[
 {"width":152,"height":129,"title":{"text":"(d) Raining, t = 17.54","offset":9},
  "transform":[{"filter":"datum.p==='d'"}],"mark":{"type":"line","clip":true},
  "encoding":{
   "x":{"field":"f","type":"quantitative","scale":{"domain":[0,250],"nice":false},"axis":{"values":[0,100,200],"title":"Frequency (Hz)"}},
   "y":{"field":"v","type":"quantitative","scale":{"domain":[-5,25],"nice":false},"axis":{"values":[0,10,20],"title":["Difference in","power (dB/Hz)"],"titleLineHeight":22,"titlePadding":6}},
   "color":{"field":"s","type":"nominal","scale":{"domain":[0,1,2],"range":["#0000ff","#00ee00","#000000"]},
     "legend":{"title":null,"orient":"none","legendX":580,"legendY":26,"symbolType":"M-0.556,0H4.444","symbolSize":324,"symbolStrokeWidth":3,"labelOffset":34,"strokeColor":"#666666","fillColor":"white","padding":7,"rowPadding":4,"labelExpr":"['0 - 0.3 m','0.1 - 0.3 m','0.2 - 0.3 m'][datum.value]"}}}},
 {"width":152,"height":129,"title":{"text":"(e) Not raining, t = 16.86","offset":9},
  "transform":[{"filter":"datum.p==='e'"}],"mark":{"type":"line","clip":true},
  "encoding":{
   "x":{"field":"f","type":"quantitative","scale":{"domain":[0,250],"nice":false},"axis":{"values":[0,100,200],"title":"Frequency (Hz)"}},
   "y":{"field":"v","type":"quantitative","scale":{"domain":[-5,25],"nice":false},"axis":{"values":[0,10,20],"labels":false,"title":null}},
   "color":{"field":"s","type":"nominal","scale":{"domain":[0,1,2],"range":["#0000ff","#00ee00","#000000"]},
     "legend":{"title":null,"orient":"none","legendX":580,"legendY":26,"symbolType":"M-0.556,0H4.444","symbolSize":324,"symbolStrokeWidth":3,"labelOffset":34,"strokeColor":"#666666","fillColor":"white","padding":7,"rowPadding":4,"labelExpr":"['0 - 0.3 m','0.1 - 0.3 m','0.2 - 0.3 m'][datum.value]"}}}},
 {"width":152,"height":129,"title":{"text":"(e) Not raining, t = 29.5","offset":9},
  "transform":[{"filter":"datum.p==='f'"}],"mark":{"type":"line","clip":true},
  "encoding":{
   "x":{"field":"f","type":"quantitative","scale":{"domain":[0,250],"nice":false},"axis":{"values":[0,100,200],"title":"Frequency (Hz)"}},
   "y":{"field":"v","type":"quantitative","scale":{"domain":[-5,25],"nice":false},"axis":{"values":[0,10,20],"labels":false,"title":null}},
   "color":{"field":"s","type":"nominal","scale":{"domain":[0,1,2],"range":["#0000ff","#00ee00","#000000"]},
     "legend":{"title":null,"orient":"none","legendX":580,"legendY":26,"symbolType":"M-0.556,0H4.444","symbolSize":324,"symbolStrokeWidth":3,"labelOffset":34,"strokeColor":"#666666","fillColor":"white","padding":7,"rowPadding":4,"labelExpr":"['0 - 0.3 m','0.1 - 0.3 m','0.2 - 0.3 m'][datum.value]"}}}}
 ],"spacing":48,"bounds":"flush"}
]
}
